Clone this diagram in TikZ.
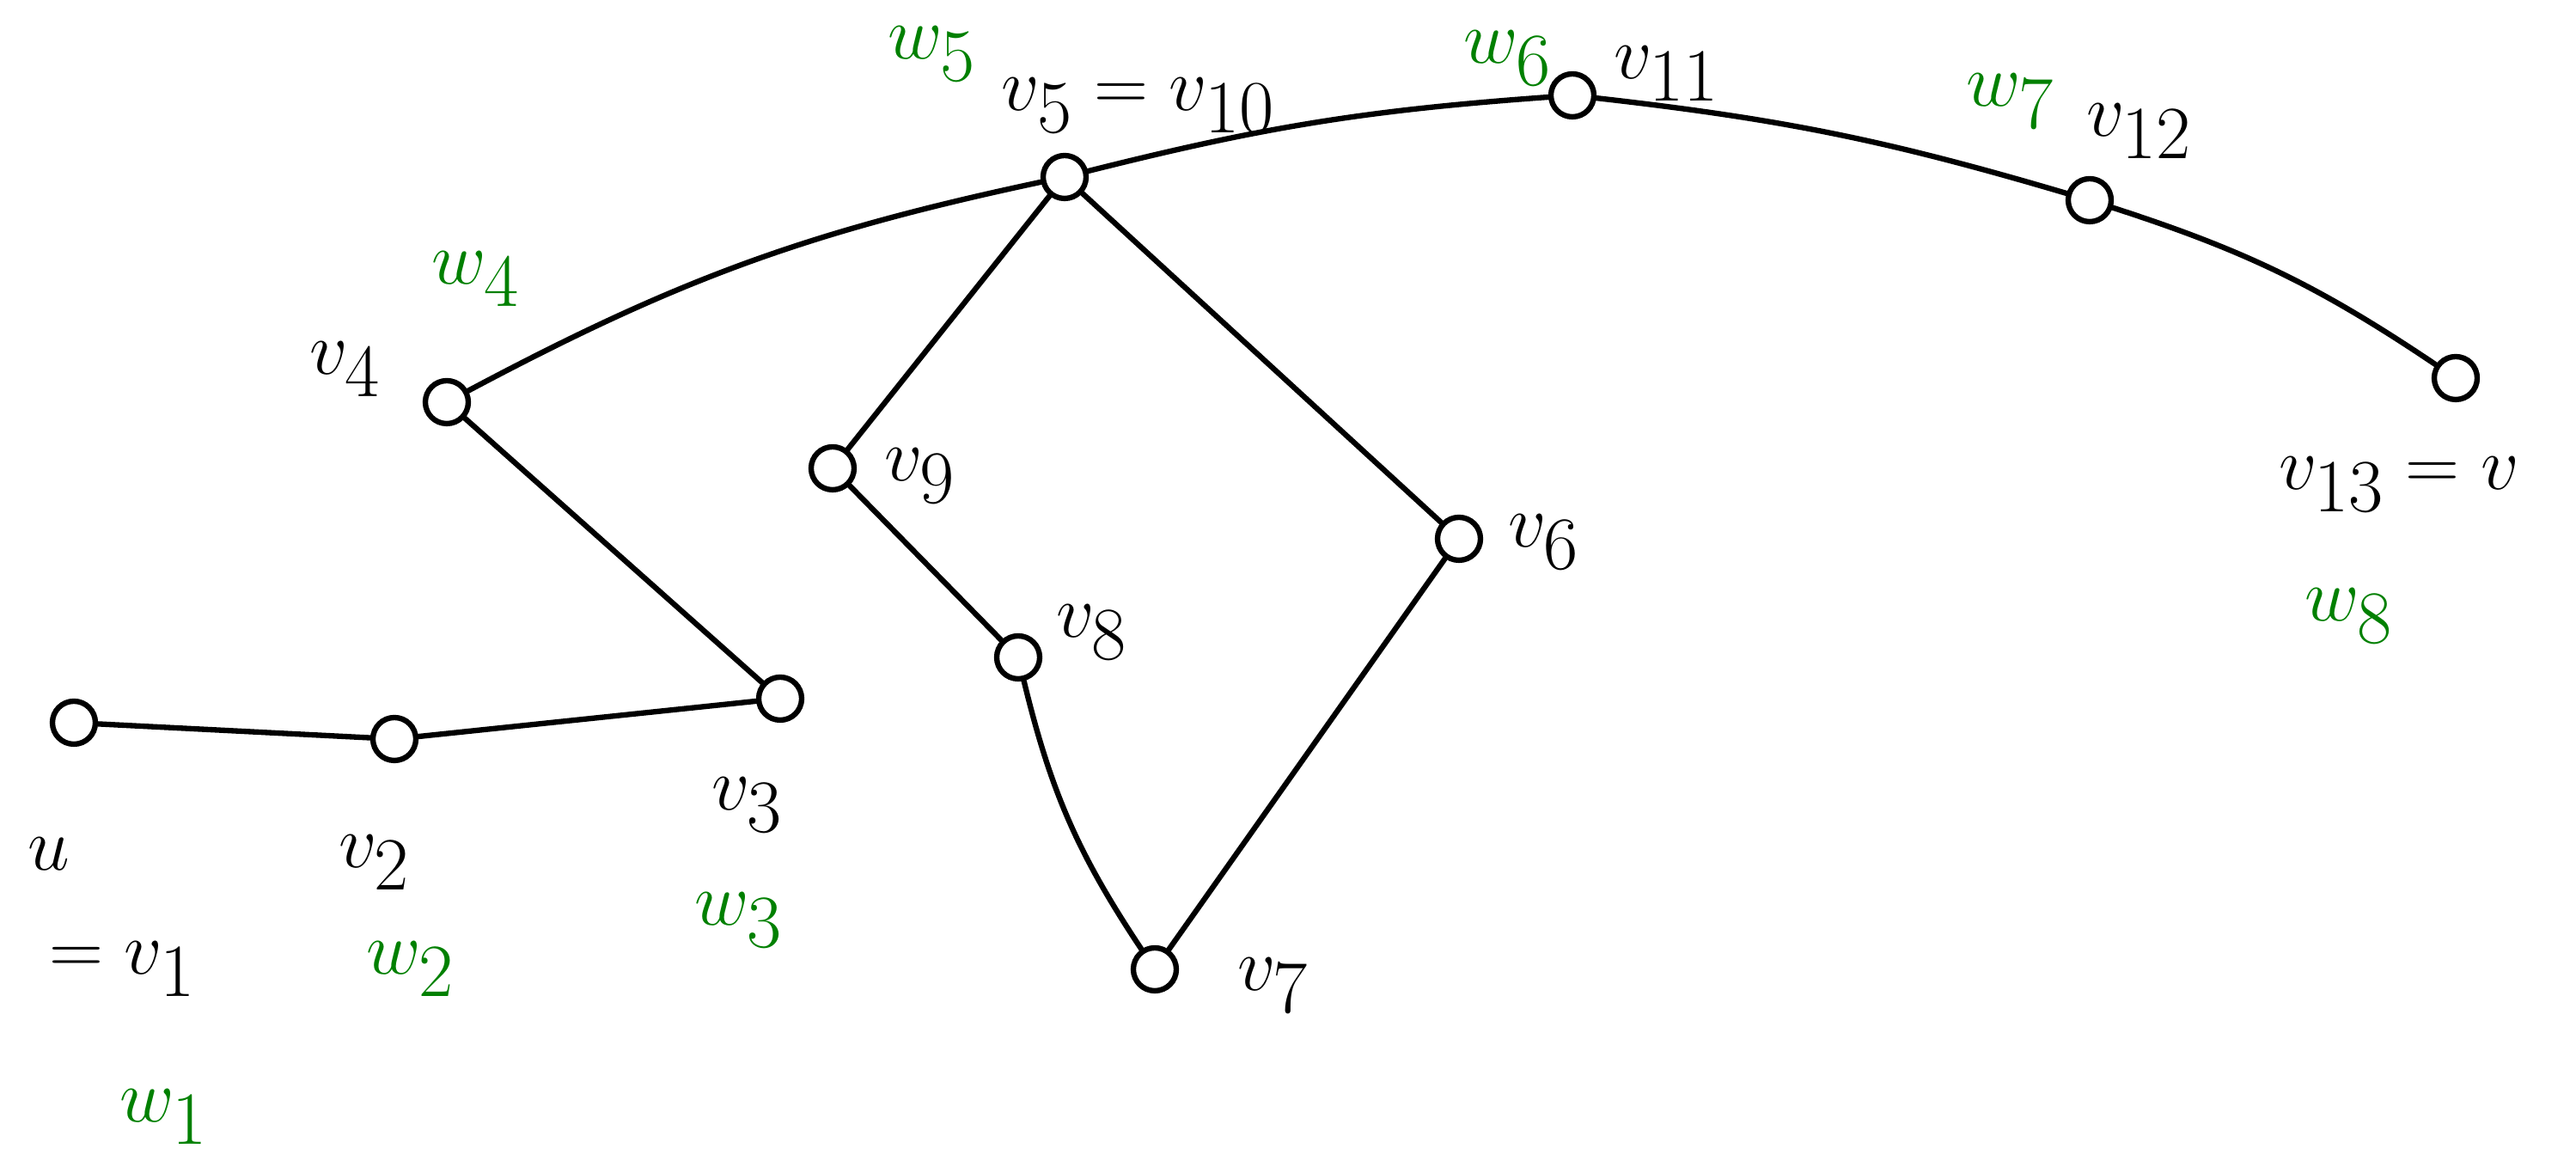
\documentclass[tikz,border=0pt]{standalone}
\usepackage{tikz}
\usetikzlibrary{positioning, calc}
\usepackage{xcolor}
\definecolor{walkgreen}{RGB}{0,128,0}
\tikzstyle{vertex}  = [circle, draw=black, line width=1.8pt, minimum size=0.5cm, inner sep=0pt]
\tikzstyle{vlabel}  = [text=black, font=\fontsize{52}{60}\selectfont, inner sep=0pt]
\tikzstyle{wlabel}  = [text=walkgreen, font=\fontsize{52}{60}\selectfont, inner sep=0pt]
\tikzstyle{edge}    = [line width=1.8pt, line cap=round]

\begin{document}
\begin{tikzpicture}
  \useasboundingbox (0,0) rectangle (29.98,13.58);

  % Vertices
  \node (v1)  [vertex] at (0.86, 5.17)  {};
  \node (v2)  [vertex] at (4.59, 4.98)  {};
  \node (v3)  [vertex] at (9.08, 5.45)  {};
  \node (v4)  [vertex] at (5.20, 8.90)  {};
  \node (v5)  [vertex] at (12.39, 11.52) {};
  \node (v9)  [vertex] at (9.69, 8.13)  {};
  \node (v8)  [vertex] at (11.85, 5.93) {};
  \node (v7)  [vertex] at (13.44, 2.30) {};
  \node (v6)  [vertex] at (16.98, 7.31) {};
  \node (v11) [vertex] at (18.30, 12.47) {};
  \node (v12) [vertex] at (24.32, 11.25) {};
  \node (v13) [vertex] at (28.58, 9.18) {};

  % Vertex labels
  \node (lv1)  [vlabel] at (0.57, 3.64)  {$u$};
  \node (lv1b) [vlabel] at (1.43, 2.30)  {$=v_1$};
  \node (lv2)  [vlabel] at (4.36, 3.54)  {$v_2$};
  \node (lv3)  [vlabel] at (8.70, 4.21)  {$v_3$};
  \node (lv4)  [vlabel] at (4.02, 9.28)  {$v_4$};
  \node (lv5)  [vlabel] at (13.25, 12.35) {$v_5=v_{10}$};
  \node (lv9)  [vlabel] at (10.71, 8.04) {$v_9$};
  \node (lv8)  [vlabel] at (12.71, 6.22) {$v_8$};
  \node (lv7)  [vlabel] at (14.82, 2.11) {$v_7$};
  \node (lv6)  [vlabel] at (17.97, 7.27) {$v_6$};
  \node (lv11) [vlabel] at (19.40, 12.72) {$v_{11}$};
  \node (lv12) [vlabel] at (24.90, 12.05) {$v_{12}$};
  \node (lv13) [vlabel] at (27.92, 7.94) {$v_{13}=v$};

  % Walk labels
  \node (w1) [wlabel] at (1.91, 0.58)  {$w_1$};
  \node (w2) [wlabel] at (4.78, 2.30)  {$w_2$};
  \node (w3) [wlabel] at (8.60, 2.87)  {$w_3$};
  \node (w4) [wlabel] at (5.54, 10.33) {$w_4$};
  \node (w5) [wlabel] at (10.85, 12.95) {$w_5$};
  \node (w6) [wlabel] at (17.55, 12.90) {$w_6$};
  \node (w7) [wlabel] at (23.40, 12.40) {$w_7$};
  \node (w8) [wlabel] at (27.34, 6.41) {$w_8$};

  % Edges
  \draw[edge] (v1) -- (v2);
  \draw[edge] (v2) -- (v3);
  \draw[edge] (v3) -- (v4);
  \draw[edge] (v4) to[bend left=8] (v5);
  \draw[edge] (v5) -- (v9);
  \draw[edge] (v9) -- (v8);
  \draw[edge] (v8) to[bend right=10] (v7);
  \draw[edge] (v7) -- (v6);
  \draw[edge] (v6) -- (v5);
  \draw[edge] (v5) to[bend left=5] (v11);
  \draw[edge] (v11) to[bend left=5] (v12);
  \draw[edge] (v12) to[bend left=8] (v13);

\end{tikzpicture}
\end{document}
